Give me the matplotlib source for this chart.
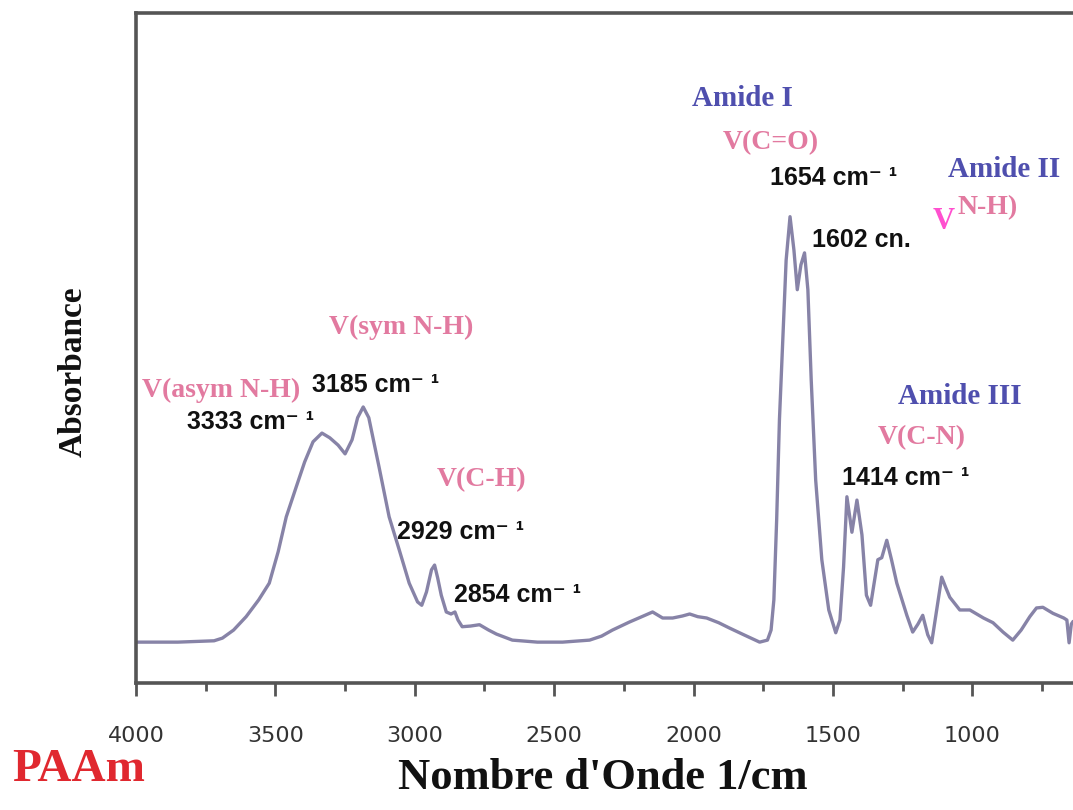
import matplotlib
matplotlib.use("Agg")
import matplotlib.pyplot as plt
import numpy as np

# --- FTIR spectrum of PAAm (wavenumber in cm-1, absorbance in arbitrary units) ---
wavenumber = [4000, 3850, 3720, 3690, 3650, 3605, 3560, 3522, 3490, 3461,
              3425, 3395, 3365, 3333, 3305, 3275, 3250, 3225, 3205, 3185,
              3165, 3128, 3092, 3056, 3020, 2990, 2975, 2958, 2940, 2929,
              2918, 2905, 2887, 2870, 2856, 2845, 2830, 2800, 2768, 2735,
              2707, 2650, 2560, 2470, 2373, 2330, 2291, 2230, 2180, 2147,
              2111, 2075, 2040, 2014, 1985, 1953, 1910, 1871, 1820, 1763,
              1735, 1722, 1712, 1702, 1692, 1680, 1668, 1654, 1640, 1628,
              1615, 1602, 1590, 1578, 1562, 1540, 1515, 1490, 1475, 1462,
              1450, 1432, 1414, 1396, 1380, 1365, 1339, 1325, 1307, 1290,
              1271, 1235, 1214, 1195, 1178, 1160, 1146, 1128, 1110, 1095,
              1081, 1045, 1009, 960, 926, 890, 855, 825, 794, 770,
              747, 711, 672, 661, 653, 645, 640]
absorbance = [0.061, 0.061, 0.063, 0.067, 0.079, 0.099, 0.124, 0.149, 0.196, 0.248,
              0.293, 0.330, 0.360, 0.373, 0.366, 0.355, 0.342, 0.363, 0.396, 0.412,
              0.396, 0.322, 0.248, 0.199, 0.149, 0.121, 0.116, 0.136, 0.169, 0.176,
              0.157, 0.131, 0.106, 0.103, 0.106, 0.094, 0.084, 0.085, 0.087, 0.079,
              0.073, 0.064, 0.061, 0.061, 0.064, 0.070, 0.079, 0.091, 0.100, 0.106,
              0.097, 0.097, 0.100, 0.103, 0.099, 0.097, 0.090, 0.082, 0.072, 0.061,
              0.064, 0.079, 0.124, 0.243, 0.393, 0.512, 0.631, 0.696, 0.646, 0.587,
              0.624, 0.642, 0.587, 0.452, 0.303, 0.184, 0.109, 0.075, 0.094, 0.173,
              0.278, 0.225, 0.273, 0.221, 0.131, 0.116, 0.184, 0.187, 0.213, 0.184,
              0.149, 0.101, 0.076, 0.088, 0.101, 0.072, 0.060, 0.109, 0.158, 0.142,
              0.128, 0.109, 0.109, 0.097, 0.090, 0.076, 0.064, 0.079, 0.099, 0.112,
              0.113, 0.104, 0.097, 0.094, 0.060, 0.088, 0.091]

tick_values = [4000, 3500, 3000, 2500, 2000, 1500, 1000]
tick_labels = ["4000", "3500", "3000", "2500", "2000", "1500", "1000"]

# band annotations: (text, wavenumber, absorbance)
peak_labels = [
    ("3333 cm\u207b \u00b9", 3817, 0.390),
    ("3185 cm\u207b \u00b9", 3368, 0.445),
    ("2929 cm\u207b \u00b9", 3063, 0.225),
    ("2854 cm\u207b \u00b9", 2858, 0.131),
    ("1654 cm\u207b \u00b9", 1727, 0.754),
    ("1602 cn.", 1576, 0.661),
    ("1414 cm\u207b \u00b9", 1469, 0.306),
]
mode_labels = [
    ("V(asym N-H)", 3978, 0.437),
    ("V(sym N-H)", 3307, 0.531),
    ("V(C-H)", 2923, 0.303),
    ("V(C=O)", 1896, 0.806),
    ("N-H)", 1052, 0.710),
    ("V(C-N)", 1339, 0.367),
]
amide_labels = [
    ("Amide I", 2007, 0.873),
    ("Amide II", 1088, 0.766),
    ("Amide III", 1268, 0.427),
]

LINE = "#8783a7"
BLUE = "#4f4fae"
PINK = "#e27aa0"
AXIS = "#555555"
SERIF = ["Liberation Serif", "DejaVu Serif"]
SANS = ["Liberation Sans", "DejaVu Sans"]

fig = plt.figure(figsize=(10.73, 8.10), dpi=100, facecolor="white")
ax = fig.add_axes([136 / 1073, 1 - 683 / 810, (1073 - 136) / 1073, 670 / 810])

ax.plot(wavenumber, absorbance, color=LINE, linewidth=2.4, solid_joinstyle="round")

ax.set_xlim(4000, 639)
ax.set_ylim(0, 1)

ax.set_xticks(tick_values)
ax.set_xticklabels(tick_labels, fontsize=16, color="#333333", family=["DejaVu Sans"])
ax.set_xticks(np.arange(3750, 600, -500), minor=True)
ax.tick_params(axis="x", which="major", direction="out", length=9, width=2, color=AXIS, pad=22)
ax.tick_params(axis="x", which="minor", direction="out", length=6, width=2, color=AXIS)
ax.set_yticks([])

for side in ["left", "bottom", "top"]:
    ax.spines[side].set_color(AXIS)
    ax.spines[side].set_linewidth(2.6)
ax.spines["right"].set_visible(False)

# peak positions
for txt, x, y in peak_labels:
    ax.text(x, y, txt, fontsize=18, fontweight="bold", color="#111111",
            family=SANS, ha="left", va="center")

# vibration modes
for txt, x, y in mode_labels:
    ax.text(x, y, txt, fontsize=20, fontweight="bold", color=PINK,
            family=SERIF, ha="left", va="center")
ax.text(1142, 0.689, "V", fontsize=22, fontweight="bold", color="#ff50cf",
        family=SERIF, ha="left", va="center")

# amide bands
for txt, x, y in amide_labels:
    ax.text(x, y, txt, fontsize=21, fontweight="bold", color=BLUE,
            family=SERIF, ha="left", va="center")

ax.set_xlabel("Nombre d'Onde 1/cm", fontsize=32, fontweight="bold", family=SERIF, color="#111111")
ax.xaxis.set_label_coords(0.498, -0.112)
ax.set_ylabel("Absorbance", fontsize=24, fontweight="bold", family=SERIF, color="#111111")
ax.yaxis.set_label_coords(-0.051, 0.464)

fig.text(12 / 1073, 1 - 770 / 810, "PAAm", fontsize=34, fontweight="bold", color="#e0282f",
         family=SERIF, ha="left", va="center")

fig.savefig("out.png", dpi=100, facecolor="white")
